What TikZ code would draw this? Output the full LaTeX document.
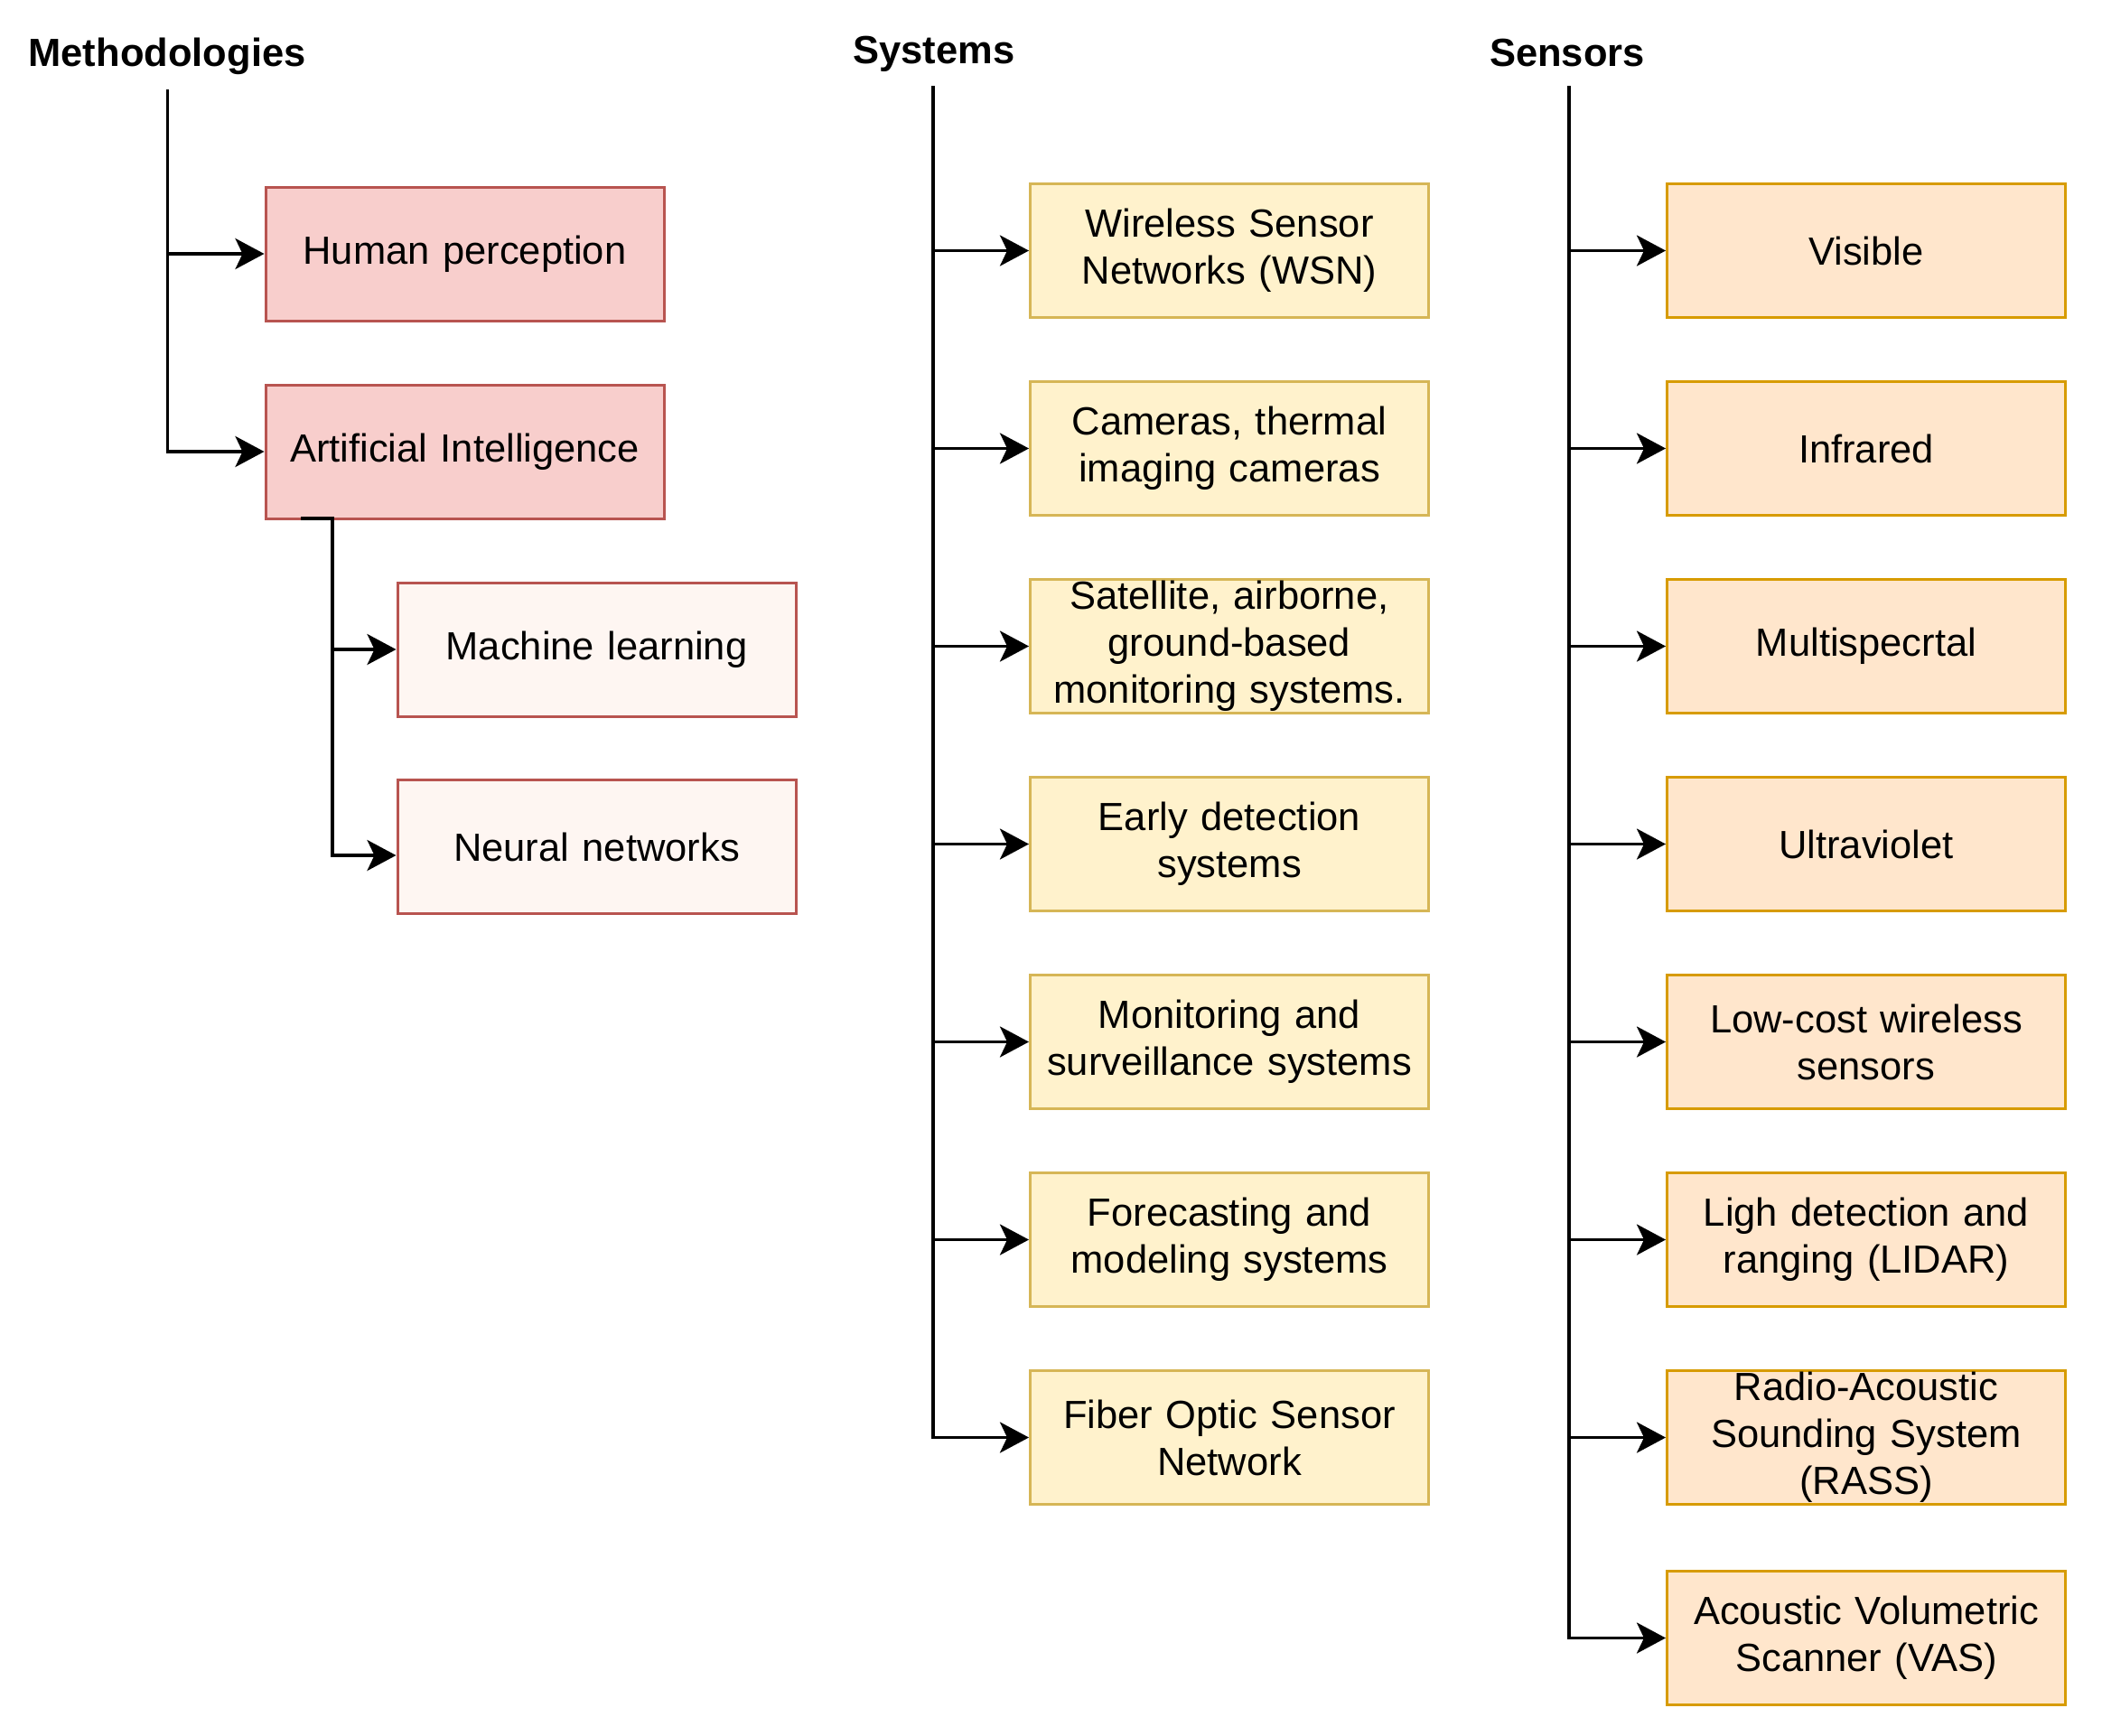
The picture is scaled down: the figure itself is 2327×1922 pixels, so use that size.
\documentclass[tikz,border=0pt]{standalone}
\usepackage{fontspec}
\setmainfont{Liberation Sans}
\usetikzlibrary{arrows.meta}
\definecolor{redfill}{HTML}{F8CECC}
\definecolor{redline}{HTML}{B85450}
\definecolor{lightfill}{HTML}{FEF6F2}
\definecolor{yelfill}{HTML}{FFF2CC}
\definecolor{yelline}{HTML}{D6B656}
\definecolor{orfill}{HTML}{FFE6CC}
\definecolor{orline}{HTML}{D79B00}
\begin{document}
\begin{tikzpicture}[x=1pt,y=-1pt,
  box/.style={draw, line width=3pt, minimum width=441pt, minimum height=148pt,
    inner sep=0pt, align=center, text width=436pt,
    font=\fontsize{43.5}{52}\selectfont},
  redbox/.style={box, fill=redfill, draw=redline},
  lightbox/.style={box, fill=lightfill, draw=redline},
  yelbox/.style={box, fill=yelfill, draw=yelline},
  orbox/.style={box, fill=orfill, draw=orline},
  heading/.style={anchor=base, inner sep=0pt, font=\fontsize{43.5}{52}\selectfont\bfseries},
  conn/.style={line width=3.5pt, -{Stealth[length=32pt,width=34pt,inset=8pt]}},
  plain/.style={line width=3.5pt}]
\useasboundingbox (0,0) rectangle (2327,1922);
\fill[white] (0,0) rectangle (2327,1922);

% ---------- Methodologies ----------
\node[heading] (tm) at (185,73) {Methodologies};
\coordinate (mtop) at (185.5,99);
\node[redbox] (m1) at (514.5,281) {Human perception};
\node[redbox] (m2) at (514.5,500) {Artificial Intelligence};
\node[lightbox] (m3) at (660.5,719) {Machine learning};
\node[lightbox] (m4) at (660.5,937.5) {Neural networks};
\draw[conn] (mtop) |- (m2.west);
\draw[conn] (mtop |- m1.west) -- (m1.west);
\coordinate (aiS) at (333,574);
\coordinate (aiC) at (368,574);
\coordinate (nnIn) at ([yshift=-9.5pt]m4.west);
\draw[conn] (aiS) -- (aiC) |- (nnIn);
\draw[conn] (aiC |- m3.west) -- (m3.west);

% ---------- Systems ----------
\node[heading] (ts) at (1034,70) {Systems};
\coordinate (stop) at (1033,95);
\node[yelbox] (s1) at (1361,277.5) {Wireless Sensor\\Networks (WSN)};
\node[yelbox] (s2) at (1361,496.5) {Cameras, thermal\\imaging cameras};
\node[yelbox] (s3) at (1361,715.5) {Satellite, airborne,\\ground-based\\monitoring systems.};
\node[yelbox] (s4) at (1361,934.5) {Early detection\\systems};
\node[yelbox] (s5) at (1361,1153.5) {Monitoring and\\surveillance systems};
\node[yelbox] (s6) at (1361,1372.5) {Forecasting and\\modeling systems};
\node[yelbox] (s7) at (1361,1591.5) {Fiber Optic Sensor\\Network};
\draw[conn] (stop) |- (s7.west);
\foreach \n in {s1,s2,s3,s4,s5,s6}
  \draw[conn] (stop |- \n.west) -- (\n.west);

% ---------- Sensors ----------
\node[heading] (te) at (1735,73) {Sensors};
\coordinate (etop) at (1737,95);
\node[orbox] (e1) at (2066,277.5) {Visible};
\node[orbox] (e2) at (2066,496.5) {Infrared};
\node[orbox] (e3) at (2066,715.5) {Multispecrtal};
\node[orbox] (e4) at (2066,934.5) {Ultraviolet};
\node[orbox] (e5) at (2066,1153.5) {Low-cost wireless\\sensors};
\node[orbox] (e6) at (2066,1372.5) {Ligh detection and\\ranging (LIDAR)};
\node[orbox] (e7) at (2066,1591.5) {Radio-Acoustic\\Sounding System\\(RASS)};
\node[orbox] (e8) at (2066,1813.5) {Acoustic Volumetric\\Scanner (VAS)};
\draw[conn] (etop) |- (e8.west);
\foreach \n in {e1,e2,e3,e4,e5,e6,e7}
  \draw[conn] (etop |- \n.west) -- (\n.west);
\end{tikzpicture}
\end{document}
